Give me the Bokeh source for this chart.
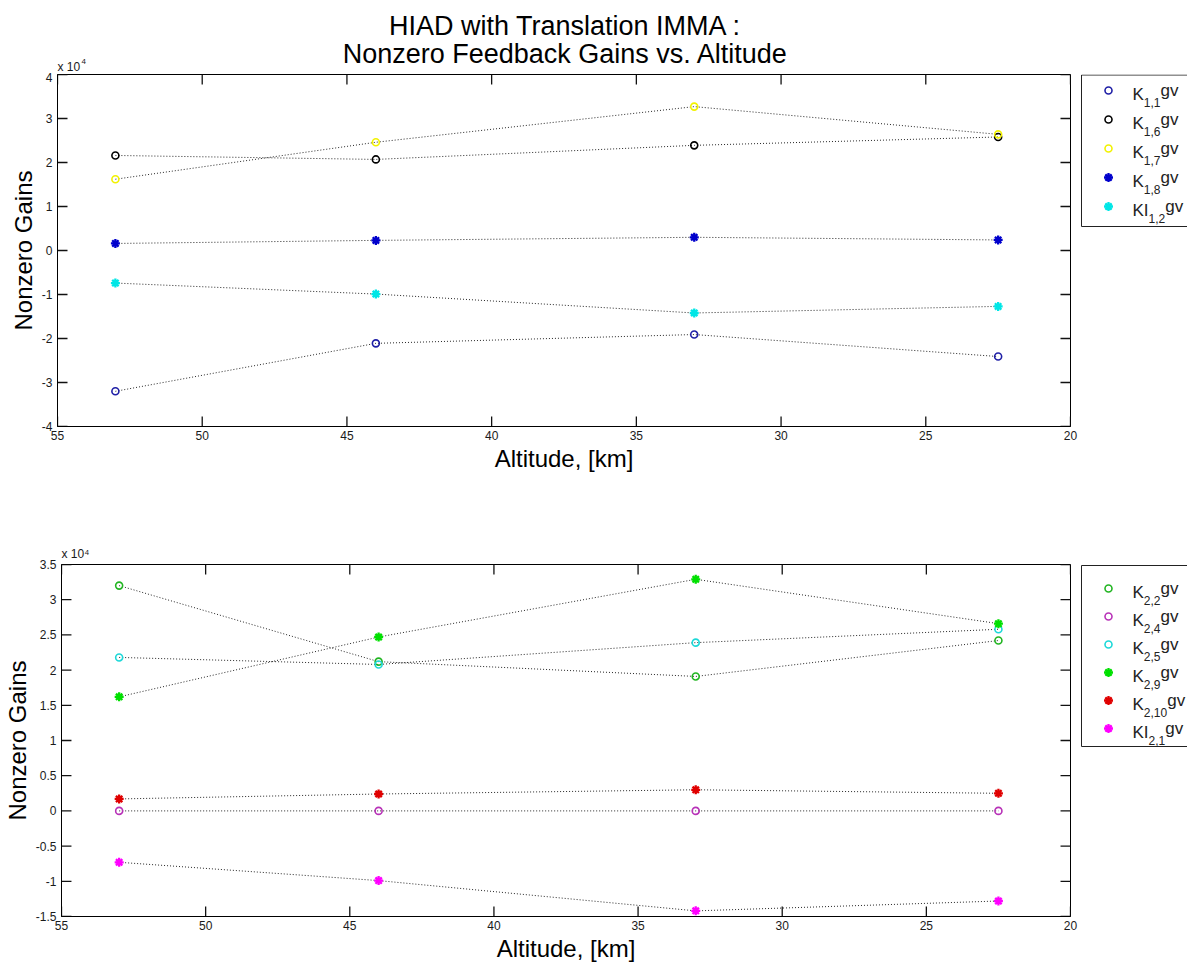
from bokeh.plotting import figure
from bokeh.models import Range1d, FixedTicker, CustomJSTickFormatter, Title
from bokeh.layouts import column, row
from bokeh.embed import file_html
from bokeh.resources import INLINE
from bokeh.core.properties import value

# ---------------- data ----------------
altitude_km = [53.0, 44.0, 33.0, 22.5]

# top subplot
K_1_1 = [-32000, -21100, -19100, -24100]
K_1_6 = [21600, 20700, 23900, 25800]
K_1_7 = [16200, 24600, 32700, 26400]
K_1_8 = [1600, 2300, 3000, 2400]
KI_1_2 = [-7400, -9900, -14200, -12700]

# bottom subplot
K_2_2 = [32000, 21200, 19100, 24200]
K_2_4 = [0, 0, 0, 0]
K_2_5 = [21800, 20800, 23900, 25800]
K_2_9 = [16200, 24700, 32900, 26600]
K_2_10 = [1700, 2400, 3000, 2500]
KI_2_1 = [-7300, -9900, -14200, -12800]

x_ticks = [55, 50, 45, 40, 35, 30, 25, 20]
top_y_ticks = [-40000, -30000, -20000, -10000, 0, 10000, 20000, 30000, 40000]
bot_y_ticks = [-15000, -10000, -5000, 0, 5000, 10000, 15000, 20000, 25000, 30000, 35000]

title_lines = ["HIAD with Translation IMMA :", "Nonzero Feedback Gains vs. Altitude"]
x_label = "Altitude, [km]"
y_label = "Nonzero Gains"
mult_base, mult_exp = "x 10", "4"

# (main text, subscript, values, colour, marker)
top_series = [
    ("K", "1,1", K_1_1, "#1f1fa6", "circle"),
    ("K", "1,6", K_1_6, "#000000", "circle"),
    ("K", "1,7", K_1_7, "#f2f200", "circle"),
    ("K", "1,8", K_1_8, "#0000cc", "asterisk"),
    ("KI", "1,2", KI_1_2, "#00e6e6", "asterisk"),
]
bot_series = [
    ("K", "2,2", K_2_2, "#22b522", "circle"),
    ("K", "2,4", K_2_4, "#b832b8", "circle"),
    ("K", "2,5", K_2_5, "#1cd8d8", "circle"),
    ("K", "2,9", K_2_9, "#00e000", "asterisk"),
    ("K", "2,10", K_2_10, "#e00000", "asterisk"),
    ("KI", "2,1", KI_2_1, "#ff00ff", "asterisk"),
]

FONT = "Liberation Sans"
W = 1187
MAIN_W = 1078
LEG_W = W - MAIN_W
FRAME_W = MAIN_W - 57 - 8
FRAME_H = 352
TICK_PX = 10
X_LO, X_HI = 55, 20


def make_main(height, mb_top, mb_bottom, ylo, yhi, yticks, series, mult_standoff=None):
    p = figure(width=MAIN_W, height=height, output_backend="svg", toolbar_location=None,
               title_location=None,
               x_range=Range1d(X_LO, X_HI), y_range=Range1d(ylo, yhi),
               min_border_left=57, min_border_right=8,
               min_border_top=mb_top, min_border_bottom=mb_bottom)
    p.xgrid.visible = False
    p.ygrid.visible = False
    p.outline_line_color = "black"
    p.outline_line_width = 1
    p.background_fill_color = "white"
    p.border_fill_color = "white"

    fmt = CustomJSTickFormatter(code="return String(Math.round(tick / 1000) / 10);")
    for ax in p.xaxis:
        ax.ticker = FixedTicker(ticks=x_ticks)
        ax.major_tick_in = 0
        ax.major_tick_out = 0
        ax.minor_tick_in = 0
        ax.minor_tick_out = 0
        ax.axis_line_color = "black"
        ax.major_label_text_font = FONT
        ax.major_label_text_font_size = "12px"
        ax.major_label_text_color = "#1a1a1a"
        ax.major_label_standoff = 4
        ax.axis_label = x_label
        ax.axis_label_text_font = FONT
        ax.axis_label_text_font_size = "24px"
        ax.axis_label_text_font_style = "normal"
        ax.axis_label_text_color = "black"
        ax.axis_label_standoff = 2
    for ax in p.yaxis:
        ax.ticker = FixedTicker(ticks=yticks)
        ax.formatter = fmt
        ax.major_tick_in = 0
        ax.major_tick_out = 0
        ax.minor_tick_in = 0
        ax.minor_tick_out = 0
        ax.axis_line_color = "black"
        ax.major_label_text_font = FONT
        ax.major_label_text_font_size = "12px"
        ax.major_label_text_color = "#1a1a1a"
        ax.major_label_standoff = 5
        ax.axis_label = y_label
        ax.axis_label_text_font = FONT
        ax.axis_label_text_font_size = "24px"
        ax.axis_label_text_font_style = "normal"
        ax.axis_label_text_color = "black"
        ax.axis_label_standoff = 2

    # inward tick marks on all four sides (MATLAB box style)
    ly = TICK_PX / FRAME_H * (yhi - ylo)
    lx = TICK_PX / FRAME_W * (X_LO - X_HI)
    nx, ny = len(x_ticks), len(yticks)
    tick_style = dict(line_color="#111111", line_width=1.3)
    p.segment(x0=x_ticks, y0=[ylo] * nx, x1=x_ticks, y1=[ylo + ly] * nx, **tick_style)
    p.segment(x0=x_ticks, y0=[yhi] * nx, x1=x_ticks, y1=[yhi - ly] * nx, **tick_style)
    p.segment(x0=[X_LO] * ny, y0=yticks, x1=[X_LO - lx] * ny, y1=yticks, **tick_style)
    p.segment(x0=[X_HI] * ny, y0=yticks, x1=[X_HI + lx] * ny, y1=yticks, **tick_style)

    for _, _, vals, _, _ in series:
        p.line(altitude_km, vals, line_color="black", line_dash="1 2", line_width=1, line_alpha=0.85)
    for _, _, vals, color, marker in series:
        if marker == "circle":
            p.scatter(altitude_km, vals, marker="circle", size=7, fill_color=None,
                      line_color=color, line_width=1.6)
        else:
            p.scatter(altitude_km, vals, marker="asterisk", size=9,
                      line_color=color, line_width=2.3)

    if mult_standoff is not None:
        p.add_layout(Title(text=mult_base + "\u2074", align="left", text_font=FONT,
                           text_font_size="12px", text_font_style="normal",
                           text_color="#1a1a1a", standoff=mult_standoff), "above")
    return p


def make_legend(height, mb_top, mb_bottom, frame_top, frame_bottom,
                box_top, box_bottom, item_y0, item_dy, series):
    # frame is aligned with the neighbouring plot's frame; y data == page pixel row
    p = figure(width=LEG_W, height=height, output_backend="svg", toolbar_location=None,
               title_location=None,
               x_range=Range1d(0, LEG_W), y_range=Range1d(frame_bottom, frame_top),
               x_axis_type=None, y_axis_type=None,
               min_border_left=0, min_border_right=0,
               min_border_top=mb_top, min_border_bottom=mb_bottom)
    p.xgrid.visible = False
    p.ygrid.visible = False
    p.outline_line_color = None
    p.background_fill_color = "white"
    p.border_fill_color = "white"
    bx = 3
    p.line([LEG_W + 10, bx, bx, LEG_W + 10], [box_top, box_top, box_bottom, box_bottom],
           line_color="#222222", line_width=1)

    main_w = {"K": 0.667, "I": 0.278}
    sub_w = {",": 0.278}
    for i, (main, sub, _, color, marker) in enumerate(series):
        y = item_y0 + i * item_dy
        if marker == "circle":
            p.scatter([30], [y], marker="circle", size=7, fill_color=None, line_color=color, line_width=1.6)
        else:
            p.scatter([30], [y], marker="asterisk", size=9, line_color=color, line_width=2.3)
        tx = 54
        mw = sum(main_w.get(c, 0.556) for c in main) * 17
        sw = sum(sub_w.get(c, 0.556) for c in sub) * 12
        p.text([tx], [y + 4], text=[main], text_font=value(FONT), text_font_size="17px",
               text_color="#222222", text_baseline="alphabetic", text_align="left")
        p.text([tx + mw], [y + 12], text=[sub], text_font=value(FONT), text_font_size="12px",
               text_color="#222222", text_baseline="alphabetic", text_align="left")
        p.text([tx + mw + sw], [y], text=["gv"], text_font=value(FONT), text_font_size="17px",
               text_color="#222222", text_baseline="alphabetic", text_align="left")
    return p


# ---- title strip (page rows 0..TITLE_H, y data == page pixel row) ----
TITLE_H = 72
tp = figure(width=W, height=TITLE_H, output_backend="svg", toolbar_location=None,
            title_location=None,
            x_range=Range1d(0, W), y_range=Range1d(TITLE_H, 0),
            x_axis_type=None, y_axis_type=None, min_border=0)
tp.xgrid.visible = False
tp.ygrid.visible = False
tp.outline_line_color = None
tp.background_fill_color = "white"
tp.border_fill_color = "white"
tp.text([565, 565], [25, 53], text=title_lines, text_font=value(FONT), text_font_size="27px",
        text_color="black", text_baseline="alphabetic", text_align="center")
tp.text([57], [66], text=[mult_base], text_font=value(FONT), text_font_size="12px",
        text_color="#1a1a1a", text_baseline="alphabetic", text_align="left")
tp.text([81], [61], text=[mult_exp], text_font=value(FONT), text_font_size="8px",
        text_color="#1a1a1a", text_baseline="alphabetic", text_align="left")

TOP_FRAME_TOP = 74
TOP_H = 510 - TITLE_H
TOP_MB_TOP = TOP_FRAME_TOP - TITLE_H
TOP_MB_BOTTOM = TOP_H - TOP_MB_TOP - FRAME_H
BOT_H = 969 - 510
BOT_FRAME_TOP = 564
BOT_MB_TOP = BOT_FRAME_TOP - 510
BOT_MB_BOTTOM = BOT_H - BOT_MB_TOP - FRAME_H

p_top = make_main(TOP_H, TOP_MB_TOP, TOP_MB_BOTTOM, -40000, 40000, top_y_ticks, top_series)
l_top = make_legend(TOP_H, TOP_MB_TOP, TOP_MB_BOTTOM, TOP_FRAME_TOP, TOP_FRAME_TOP + FRAME_H,
                    74.5, 226, 90, 29, top_series)

p_bot = make_main(BOT_H, BOT_MB_TOP, BOT_MB_BOTTOM, -15000, 35000,
                  bot_y_ticks, bot_series, mult_standoff=8)
l_bot = make_legend(BOT_H, BOT_MB_TOP, BOT_MB_BOTTOM, BOT_FRAME_TOP, BOT_FRAME_TOP + FRAME_H,
                    565, 746, 588, 28, bot_series)

layout = column(tp, row(p_top, l_top, spacing=0), row(p_bot, l_bot, spacing=0), spacing=0)

open("out.html", "w").write(file_html(layout, INLINE))
